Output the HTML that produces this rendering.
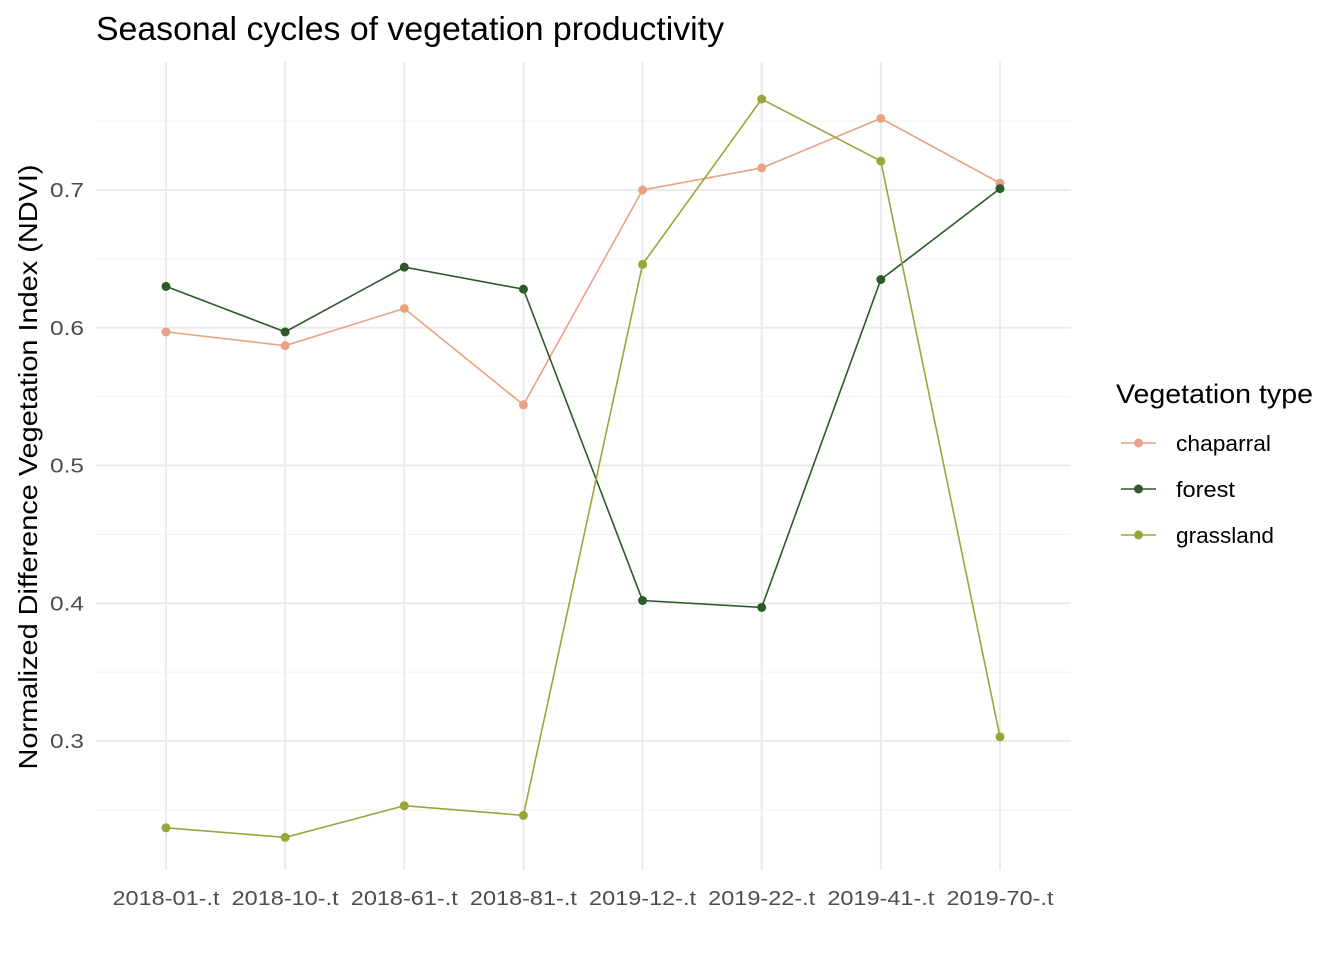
<!DOCTYPE html>
<html><head><meta charset="utf-8">
<style>
body{margin:0;background:#fff;font-family:"Liberation Sans",Arial,sans-serif;}
svg text{font-family:"Liberation Sans",Arial,sans-serif;}
</style></head>
<body>
<svg id="chart" width="1344" height="960">
<text x="96" y="40" font-size="33" textLength="628" lengthAdjust="spacingAndGlyphs" fill="#000">Seasonal cycles of vegetation productivity</text>
<g id="grid"></g>
<g id="series"></g>
<g id="xlabels"></g>
<g id="ylabels"></g>
<text transform="translate(37,467) rotate(-90)" text-anchor="middle" font-size="26" textLength="605" lengthAdjust="spacingAndGlyphs" fill="#000">Normalized Difference Vegetation Index (NDVI)</text>
<g id="legend"></g>
</svg>
<script>
const categories=["2018-01-.t","2018-10-.t","2018-61-.t","2018-81-.t","2019-12-.t","2019-22-.t","2019-41-.t","2019-70-.t"];
const chaparral=[0.597,0.587,0.614,0.544,0.700,0.716,0.752,0.705];
const forest=[0.630,0.597,0.644,0.628,0.402,0.397,0.635,0.701];
const grassland=[0.237,0.230,0.253,0.246,0.646,0.766,0.721,0.303];
const yTicks=[0.3,0.4,0.5,0.6,0.7];
const seriesNames=["chaparral","forest","grassland"];
const ns="http://www.w3.org/2000/svg";
const colors={chaparral:"#E9A283",forest:"#2E5A2A",grassland:"#9AA63A"};
const data={chaparral,forest,grassland};
function xs(i){return 166+i*119.14;}
function ys(v){return 190+(0.7-v)*1377.5;}
function mk(tag,attrs,parent){const e=document.createElementNS(ns,tag);for(const k in attrs)e.setAttribute(k,attrs[k]);parent.appendChild(e);return e;}
const grid=document.getElementById('grid');
for(let v=0.25;v<0.8;v+=0.1){const l=mk('line',{x1:96,x2:1071,y1:ys(v),y2:ys(v),stroke:'#f2f2f2','stroke-width':1},grid);

}
yTicks.forEach(v=>{const l=mk('line',{x1:96,x2:1071,y1:ys(v),y2:ys(v),stroke:'#ebebeb','stroke-width':2},grid);


const t=mk('text',{x:84,y:ys(v)+7,'text-anchor':'end','font-size':20,textLength:34,lengthAdjust:'spacingAndGlyphs',fill:'#4d4d4d'},document.getElementById('ylabels'));
t.textContent=v.toFixed(1);

});
categories.forEach((c,i)=>{const l=mk('line',{x1:xs(i),x2:xs(i),y1:62,y2:870,stroke:'#ebebeb','stroke-width':2},grid);


const t=mk('text',{x:xs(i),y:905,'text-anchor':'middle','font-size':20,textLength:107,lengthAdjust:'spacingAndGlyphs',fill:'#4d4d4d'},document.getElementById('xlabels'));
t.textContent=c;

});
const sg=document.getElementById('series');
seriesNames.forEach(n=>{const pts=data[n].map((v,i)=>xs(i)+','+ys(v)).join(' ');
const pl=mk('polyline',{points:pts,fill:'none',stroke:colors[n],'stroke-width':1.6},sg);


data[n].forEach((v,i)=>{const c=mk('circle',{cx:xs(i),cy:ys(v),r:4.5,fill:colors[n]},sg);

});});
const lg=document.getElementById('legend');
const lt=mk('text',{x:1116,y:403,'font-size':27,textLength:197,lengthAdjust:'spacingAndGlyphs',fill:'#000'},lg);lt.textContent='Vegetation type';


const lw={chaparral:95,forest:59,grassland:98};
seriesNames.forEach((n,k)=>{const y=443+k*46;
const g=mk('g',{},lg);


mk('line',{x1:1121,x2:1156,y1:y,y2:y,stroke:colors[n],'stroke-width':1.6},g);
mk('circle',{cx:1138.5,cy:y,r:4.5,fill:colors[n]},g);
const t=mk('text',{x:1176,y:y+8,'font-size':22,textLength:lw[n],lengthAdjust:'spacingAndGlyphs',fill:'#000'},g);t.textContent=n;});
</script>
</body></html>
